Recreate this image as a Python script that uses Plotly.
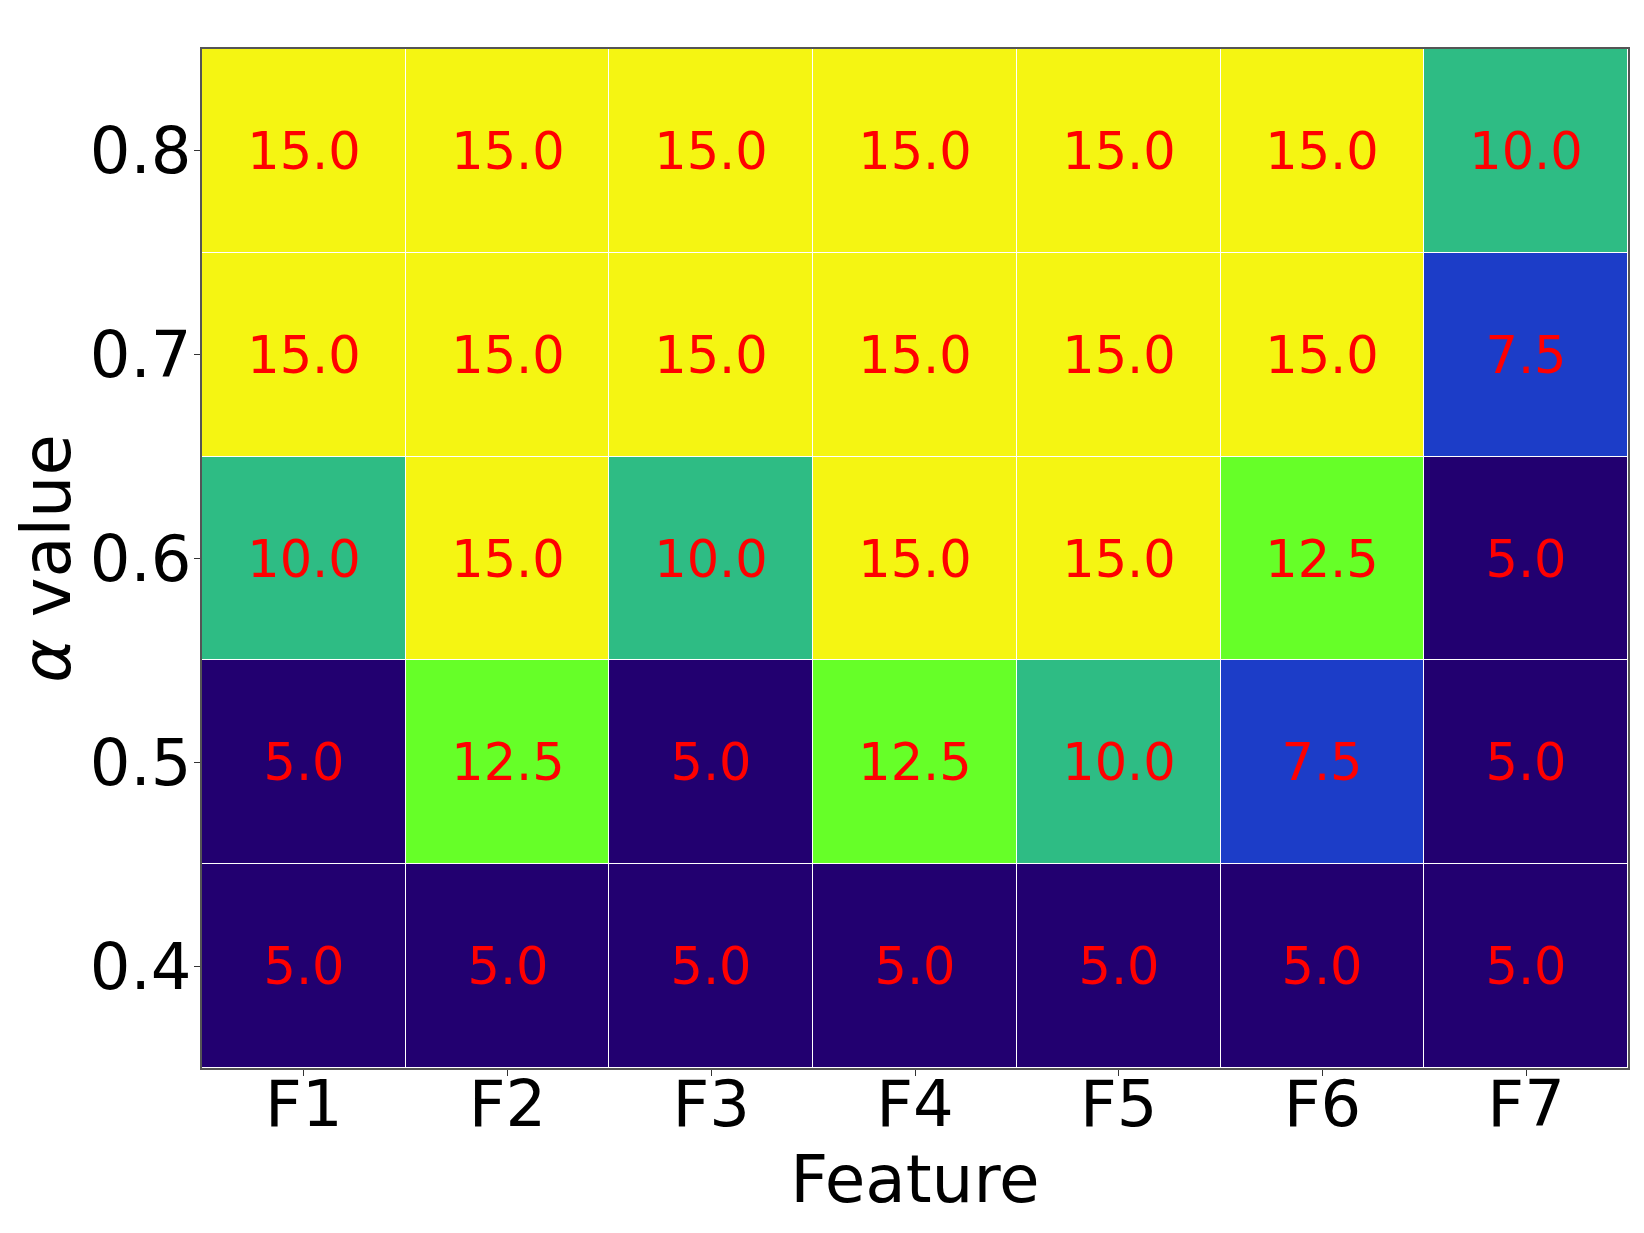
import plotly.graph_objects as go

features = ["F1", "F2", "F3", "F4", "F5", "F6", "F7"]
alphas = [0.4, 0.5, 0.6, 0.7, 0.8]
values = [
    [5.0, 5.0, 5.0, 5.0, 5.0, 5.0, 5.0],
    [5.0, 12.5, 5.0, 12.5, 10.0, 7.5, 5.0],
    [10.0, 15.0, 10.0, 15.0, 15.0, 12.5, 5.0],
    [15.0, 15.0, 15.0, 15.0, 15.0, 15.0, 7.5],
    [15.0, 15.0, 15.0, 15.0, 15.0, 15.0, 10.0],
]

colorscale = [
    [0.0, "#220070"],
    [0.25, "#1C3DC8"],
    [0.5, "#2EBC84"],
    [0.75, "#66FF28"],
    [1.0, "#F5F512"],
]

fig = go.Figure(go.Heatmap(
    x=features, y=alphas, z=values,
    zmin=5, zmax=15,
    colorscale=colorscale,
    showscale=False,
    xgap=1, ygap=1,
    texttemplate="%{z:.1f}",
    textfont=dict(color="red", size=51, family="DejaVu Sans"),
    hoverinfo="skip",
))

fig.update_layout(
    width=1644, height=1233,
    margin=dict(l=194, r=24, t=41, b=173),
    paper_bgcolor="white", plot_bgcolor="white",
    font=dict(family="DejaVu Sans", color="black"),
)
fig.update_xaxes(
    automargin=False,
    showline=True, linecolor="#555", linewidth=1.5, mirror=True,
    ticks="outside", ticklen=6, tickcolor="#333",
    ticklabelstandoff=-27,
    tickfont=dict(size=64), showgrid=False,
    title=dict(text="Feature", font=dict(size=66), standoff=1),
)
fig.update_yaxes(
    automargin=False,
    showline=True, linecolor="#555", linewidth=1.5, mirror=True,
    ticks="outside", ticklen=6, tickcolor="#333",
    ticklabelstandoff=-10,
    tickvals=alphas, ticktext=[f"{a:.1f}" for a in alphas],
    range=[0.35, 0.85],
    tickfont=dict(size=64), showgrid=False, zeroline=False,
    title=dict(text="<i>α</i> value", font=dict(size=67), standoff=14),
)

fig.write_html("out.html")
